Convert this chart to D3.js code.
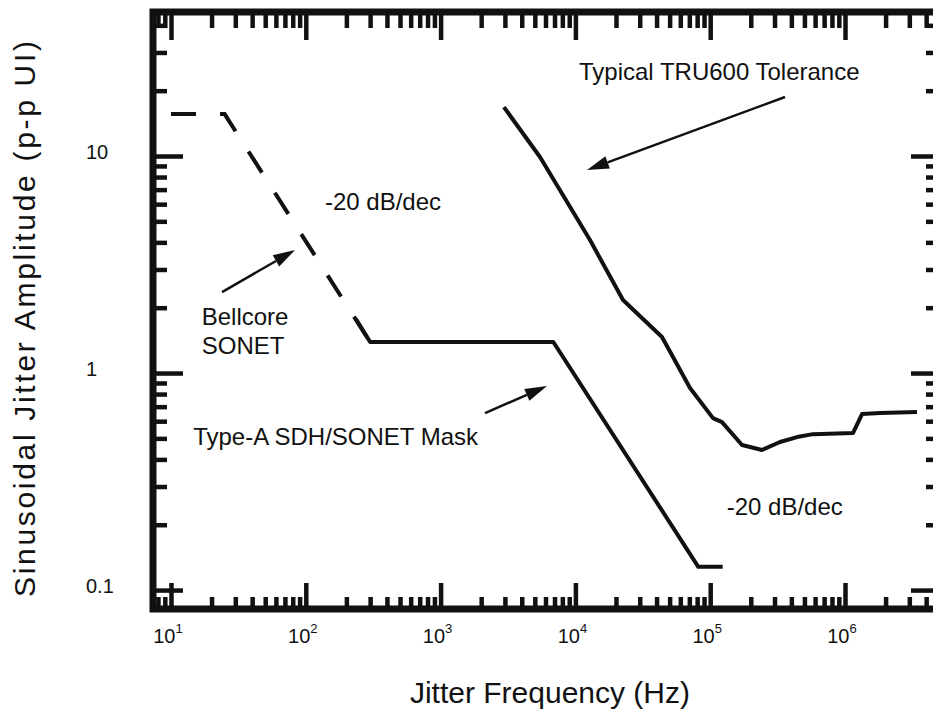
<!DOCTYPE html>
<html>
<head>
<meta charset="utf-8">
<title>Jitter tolerance</title>
<script src="https://cdn.jsdelivr.net/npm/d3@7"></script>
<style>
  body { margin: 0; background: #fff; }
  text { font-family: "Liberation Sans", Arial, Helvetica, sans-serif; fill: #111; }
</style>
</head>
<body>
<svg id="chart" width="933" height="714"></svg>
<script>

// values: frequency in Hz, amplitude in p-p UI
var bellcoreFreq = [10, 25, 300];
var bellcoreAmp  = [15.6, 15.6, 1.39];

var maskFreq = [236, 300, 6860, 81600, 123800];
var maskAmp  = [1.77, 1.39, 1.39, 0.128, 0.128];

var truFreq = [2950, 5460, 12830, 22550, 43890, 70830, 104900,
               122300, 172200, 242300, 329500, 440500, 578800, 1146000, 1337000, 1818000, 3421000];
var truAmp  = [16.8, 9.89, 4.10, 2.17, 1.465, 0.853, 0.620,
               0.594, 0.466, 0.442, 0.481, 0.507, 0.523, 0.529, 0.647, 0.654, 0.661];

var xMajor = [10, 100, 1e3, 1e4, 1e5, 1e6];
var xExp   = ["1", "2", "3", "4", "5", "6"];
var yMajor = [0.1, 1, 10];
var yLabels = ["0.1", "1", "10"];

// annotations (text and arrows) placed in data units
var notes = [
  {text: "Typical TRU600 Tolerance", f: 10630, a: 22.4},
  {text: "-20 dB/dec", f: 138.8, a: 5.64},
  {text: "-20 dB/dec", f: 132600, a: 0.2216},
  {text: "Bellcore", f: 16.9, a: 1.664},
  {text: "SONET", f: 16.9, a: 1.223},
  {text: "Type-A SDH/SONET Mask", f: 14.6, a: 0.466}
];
var arrows = [
  {f1: 359000, a1: 18.7, f2: 12190, a2: 8.62},
  {f1: 23.9, a1: 2.36, f2: 83.2, a2: 3.69},
  {f1: 2135, a1: 0.654, f2: 6156, a2: 0.871}
];

var svg = d3.select("#chart");

var x = d3.scaleLog().domain([7.354, 4.896e6]).range([153, 938]);
var y = d3.scaleLog().domain([0.0818, 46.08]).range([609, 12]);

var x0 = x.range()[0], x1 = x.range()[1];
var yb = y.range()[0], yt = y.range()[1];

// minor tick values
var xMinor = [];
for (var e = 0; e <= 6; e++) {
  for (var m = 2; m <= 9; m++) {
    var v = m * Math.pow(10, e);
    if (v > x.domain()[0] && v < x.domain()[1]) xMinor.push(v);
  }
}
var yMinor = [];
for (var e2 = -1; e2 <= 1; e2++) {
  for (var m2 = 2; m2 <= 9; m2++) {
    var w = m2 * Math.pow(10, e2);
    if (w < y.domain()[1]) yMinor.push(w);
  }
}

function tickAxis(axis, tx, ty) {
  var g = svg.append("g")
    .attr("transform", "translate(" + tx + "," + ty + ")")
    .call(axis);
  g.select(".domain").remove();
  g.selectAll(".tick line").attr("stroke", "#111").attr("stroke-width", 4.5);
  g.selectAll(".tick text").remove();
  return g;
}

// bottom
tickAxis(d3.axisBottom(x).tickValues(xMajor).tickSize(-26), 0, yb);
tickAxis(d3.axisBottom(x).tickValues(xMinor).tickSize(-12), 0, yb);
// top
tickAxis(d3.axisTop(x).tickValues(xMajor).tickSize(-28), 0, yt);
tickAxis(d3.axisTop(x).tickValues(xMinor).tickSize(-16), 0, yt);
// left
tickAxis(d3.axisLeft(y).tickValues(yMajor).tickSize(-30), x0, 0);
tickAxis(d3.axisLeft(y).tickValues(yMinor).tickSize(-14), x0, 0);
// right
tickAxis(d3.axisRight(y).tickValues(yMajor).tickSize(-27), x1, 0);
tickAxis(d3.axisRight(y).tickValues(yMinor).tickSize(-12), x1, 0);

// frame
svg.append("rect")
  .attr("x", x0).attr("y", yt)
  .attr("width", x1 - x0).attr("height", yb - yt)
  .attr("fill", "none").attr("stroke", "#111").attr("stroke-width", 7);

// x tick labels with superscript exponents
xMajor.forEach(function(v, i) {
  var t = svg.append("text")
    .attr("x", x(v) - 3).attr("y", yb + 34)
    .attr("text-anchor", "middle")
    .style("font-size", "20px");
  t.append("tspan").text("10");
  t.append("tspan").attr("dy", -10).style("font-size", "13px").text(xExp[i]);
});

// y tick labels
yMajor.forEach(function(v, i) {
  svg.append("text")
    .attr("x", 86).attr("y", y(v) + 3)
    .style("font-size", "20px")
    .text(yLabels[i]);
});

// axis titles
svg.append("text")
  .attr("x", 550).attr("y", 703)
  .attr("text-anchor", "middle")
  .style("font-size", "30px")
  .text("Jitter Frequency (Hz)");

svg.append("text")
  .attr("transform", "translate(35,319) rotate(-90)")
  .attr("text-anchor", "middle")
  .attr("textLength", 556).attr("lengthAdjust", "spacing")
  .style("font-size", "30px")
  .text("Sinusoidal Jitter Amplitude (p-p UI)");

var line = d3.line()
  .x(function(d) { return x(d[0]); })
  .y(function(d) { return y(d[1]); });

// Bellcore SONET (dashed)
svg.append("path")
  .attr("d", line(d3.zip(bellcoreFreq, bellcoreAmp)))
  .attr("fill", "none").attr("stroke", "#111")
  .attr("stroke-width", 4).attr("stroke-dasharray", "25,24");

// Type-A SDH/SONET mask
svg.append("path")
  .attr("d", line(d3.zip(maskFreq, maskAmp)))
  .attr("fill", "none").attr("stroke", "#111")
  .attr("stroke-width", 4).attr("stroke-linejoin", "round");

// TRU600 tolerance
svg.append("path")
  .attr("d", line(d3.zip(truFreq, truAmp)))
  .attr("fill", "none").attr("stroke", "#111")
  .attr("stroke-width", 4).attr("stroke-linejoin", "round");

// annotations
notes.forEach(function(n) {
  svg.append("text")
    .attr("x", x(n.f)).attr("y", y(n.a))
    .style("font-size", "24px")
    .text(n.text);
});

arrows.forEach(function(a) {
  var ax1 = x(a.f1), ay1 = y(a.a1), ax2 = x(a.f2), ay2 = y(a.a2);
  var ang = Math.atan2(ay2 - ay1, ax2 - ax1);
  var L = 22, hw = 6.5;
  var bx = ax2 - L * Math.cos(ang), by = ay2 - L * Math.sin(ang);
  svg.append("line")
    .attr("x1", ax1).attr("y1", ay1).attr("x2", bx).attr("y2", by)
    .attr("stroke", "#111").attr("stroke-width", 2.5);
  svg.append("polygon")
    .attr("points", [
      [ax2, ay2],
      [bx - hw * Math.sin(ang), by + hw * Math.cos(ang)],
      [bx + hw * Math.sin(ang), by - hw * Math.cos(ang)]
    ].map(function(p) { return p.join(","); }).join(" "))
    .attr("fill", "#111");
});

</script>
</body>
</html>
